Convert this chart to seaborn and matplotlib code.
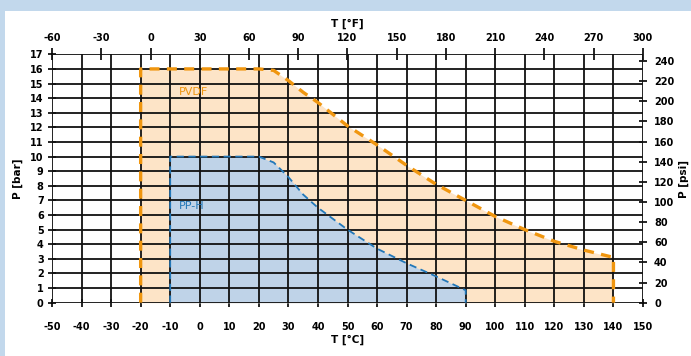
import numpy as np
import pandas as pd
import matplotlib
matplotlib.use("Agg")
import matplotlib.pyplot as plt
import seaborn as sns

# Pressure / temperature ratings
pvdf_temp = [-20, 20, 25, 30, 35, 40, 50, 60, 70, 80, 90, 100, 110, 120, 130, 140]
pvdf_bar = [16, 16, 15.9, 15.2, 14.4, 13.7, 12.1, 10.8, 9.4, 8.1, 7.0, 5.9, 5.0, 4.2, 3.6, 3.1]
pph_temp = [-10, 20, 25, 30, 35, 40, 50, 60, 70, 80, 90]
pph_bar = [10, 10, 9.6, 8.6, 7.4, 6.5, 5.0, 3.7, 2.7, 1.8, 0.85]

x_ticks_c = list(range(-50, 151, 10))
y_ticks_bar = list(range(0, 18))
x_ticks_f = list(range(-60, 301, 30))
y_ticks_psi = list(range(0, 241, 20))

ORANGE = "#f0960f"
ORANGE_FILL = "#fde4c7"
BLUE = "#2277b8"
BLUE_FILL = "#bfd3e8"
INK = "#000000"
TICK_FS = 7
LABEL_FS = 7.5

sns.set_theme(style="white")
plt.rcParams["font.family"] = ["DejaVu Sans"]
plt.rcParams["text.color"] = INK
plt.rcParams["axes.labelcolor"] = INK
plt.rcParams["xtick.color"] = INK
plt.rcParams["ytick.color"] = INK

fig = plt.figure(figsize=(6.91, 3.56), dpi=100)
fig.patch.set_facecolor("#c2d8ec")
panel = plt.Rectangle((5 / 691, 0), 1, 1 - 11 / 356, transform=fig.transFigure,
                      facecolor="white", edgecolor="none", zorder=-5)
fig.add_artist(panel)

ax = fig.add_axes([52 / 691, 1 - 302.7 / 356, (643 - 52) / 691, (302.7 - 54.3) / 356])
ax.set_facecolor("white")

pvdf = pd.DataFrame({"T": pvdf_temp, "P": pvdf_bar})
pph = pd.DataFrame({"T": pph_temp, "P": pph_bar})

ax.fill_between(pvdf["T"], 0, pvdf["P"], color=ORANGE_FILL, lw=0, zorder=1)
ax.fill_between(pph["T"], 0, pph["P"], color=BLUE_FILL, lw=0, zorder=2)

# Grid on top of the filled areas
for t in x_ticks_c:
    ax.axvline(t, color="#111111", lw=1.3, zorder=3)
for p in y_ticks_bar:
    ax.axhline(p, color="#111111", lw=1.3, zorder=3)

# Closed outlines (vertical limits at both ends)
pvdf_outline = pd.DataFrame({
    "T": [pvdf_temp[0]] + pvdf_temp + [pvdf_temp[-1]],
    "P": [0] + pvdf_bar + [0],
})
pph_outline = pd.DataFrame({
    "T": [pph_temp[0]] + pph_temp + [pph_temp[-1]],
    "P": [0] + pph_bar + [0],
})
sns.lineplot(data=pvdf_outline, x="T", y="P", sort=False, estimator=None, color=ORANGE,
             lw=2.4, linestyle=(0, (3, 2.2)), ax=ax, zorder=4)
sns.lineplot(data=pph_outline, x="T", y="P", sort=False, estimator=None, color=BLUE,
             lw=1.3, linestyle=(0, (4, 2.5)), ax=ax, zorder=4)

ax.text(-7, 14.4, "PVDF", color=ORANGE, fontsize=8, va="center", ha="left", zorder=5)
ax.text(-7, 6.6, "PP-H", color=BLUE, fontsize=8, va="center", ha="left", zorder=5)

ax.set_xlim(-50, 150)
ax.set_ylim(0, 17)
ax.set_xticks(x_ticks_c)
ax.set_yticks(y_ticks_bar)
ax.set_xticklabels([str(v) for v in x_ticks_c], fontsize=TICK_FS, fontweight="bold")
ax.set_yticklabels([str(v) for v in y_ticks_bar], fontsize=TICK_FS, fontweight="bold")
ax.tick_params(axis="x", direction="inout", length=6, width=1.2, color=INK,
               labelcolor=INK, pad=11, bottom=True)
ax.tick_params(axis="y", direction="inout", length=6, width=1.2, color=INK,
               labelcolor=INK, pad=3, left=True)
ax.set_xlabel("T [°C]", fontsize=LABEL_FS, fontweight="bold", labelpad=2)
ax.set_ylabel("P [bar]", fontsize=LABEL_FS, fontweight="bold", labelpad=5)
for s in ax.spines.values():
    s.set_visible(False)

# Fahrenheit on top, psi on the right
secx = ax.secondary_xaxis("top", functions=(lambda c: (c + 50) * 1.8 - 60,
                                            lambda f: (f + 60) / 1.8 - 50))
secx.set_xticks(x_ticks_f)
secx.set_xticklabels([str(v) for v in x_ticks_f], fontsize=TICK_FS, fontweight="bold")
secx.tick_params(direction="inout", length=8, width=1.2, color=INK, labelcolor=INK,
                 pad=4, top=True)
secx.set_xlabel("T [°F]", fontsize=LABEL_FS, fontweight="bold", labelpad=5)
for s in secx.spines.values():
    s.set_visible(False)

secy = ax.secondary_yaxis("right", functions=(lambda b: b * 14.5038, lambda p: p / 14.5038))
secy.set_yticks(y_ticks_psi)
secy.set_yticklabels([str(v) for v in y_ticks_psi], fontsize=TICK_FS, fontweight="bold")
secy.tick_params(direction="inout", length=6, width=1.2, color=INK, labelcolor=INK,
                 pad=5, right=True)
secy.set_ylabel("P [psi]", fontsize=LABEL_FS, fontweight="bold", labelpad=3)
for s in secy.spines.values():
    s.set_visible(False)

fig.savefig("out.png", dpi=100, facecolor=fig.get_facecolor())
